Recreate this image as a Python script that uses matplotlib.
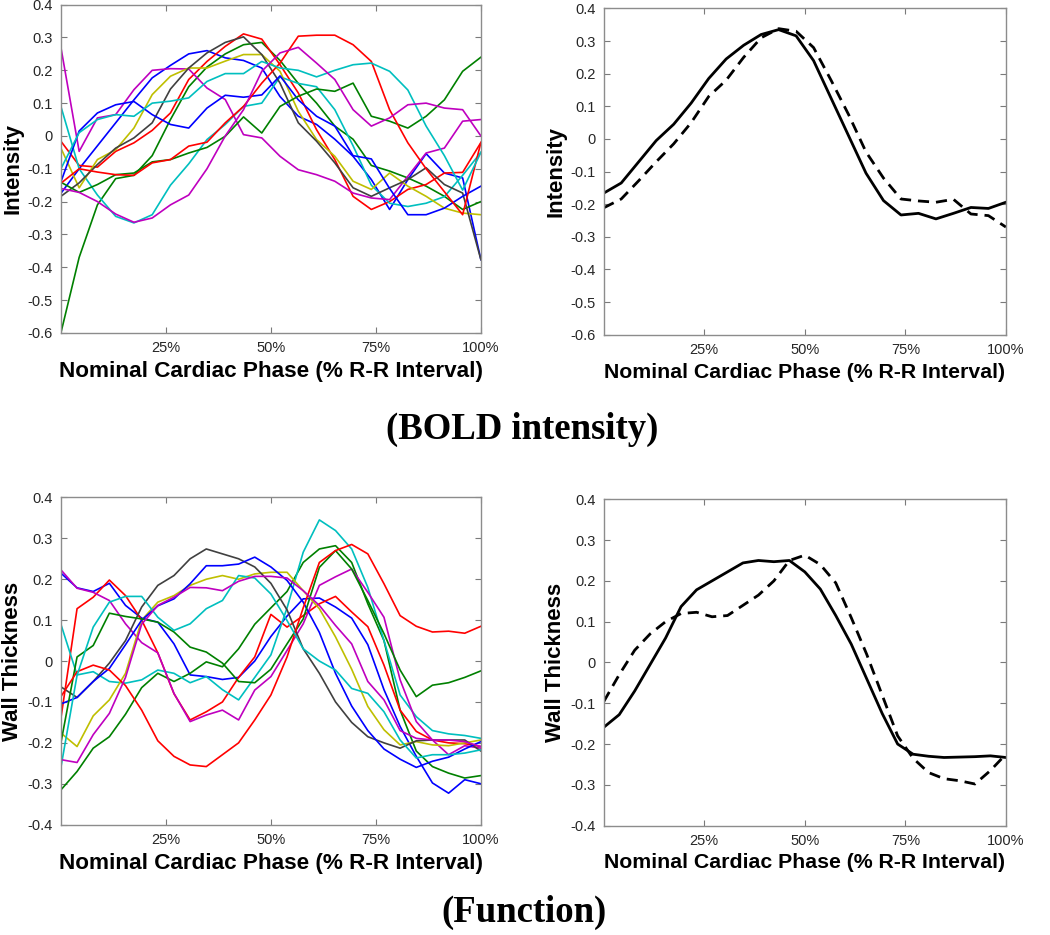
import numpy as np
import matplotlib
matplotlib.use("Agg")
import matplotlib.pyplot as plt
from matplotlib.ticker import FuncFormatter

plt.rcParams['font.family'] = ['Liberation Sans', 'DejaVu Sans']

# BOLD intensity, 24 phases per cycle
phase_bold = np.arange(24) / 23
bold_blue1 = [-0.175, -0.10, -0.03, 0.04, 0.11, 0.177, 0.215, 0.25, 0.26, 0.238, 0.23, 0.207,
              0.12, 0.06, 0.035, -0.01, -0.062, -0.133, -0.224, -0.133, -0.054, -0.113, -0.128, -0.377]
bold_green1 = [-0.60, -0.37, -0.21, -0.13, -0.12, -0.06, 0.05, 0.15, 0.21, 0.25, 0.278, 0.285,
               0.23, 0.16, 0.10, 0.03, -0.01, -0.09, -0.107, -0.128, -0.153, -0.184, -0.224, -0.20]
bold_red1 = [-0.016, -0.09, -0.095, -0.047, -0.021, 0.017, 0.07, 0.172, 0.227, 0.273, 0.311, 0.295,
             0.217, 0.131, 0.019, -0.072, -0.184, -0.224, -0.20, -0.163, -0.148, -0.113, -0.111, -0.02]
bold_cyan1 = [0.09, -0.10, -0.18, -0.245, -0.265, -0.24, -0.15, -0.085, -0.011, 0.035, 0.09, 0.10,
              0.18, 0.16, 0.15, 0.08, -0.03, -0.15, -0.205, -0.215, -0.205, -0.185, -0.12, -0.05]
bold_magenta1 = [0.27, -0.047, 0.055, 0.065, 0.141, 0.20, 0.205, 0.204, 0.146, 0.111, 0.004, -0.006,
                 -0.062, -0.103, -0.118, -0.138, -0.174, -0.189, -0.194, -0.123, -0.052, -0.037, 0.045, 0.05]
bold_yellow = [-0.037, -0.158, -0.072, -0.042, 0.024, 0.126, 0.182, 0.207, 0.207, 0.228, 0.248, 0.248,
               0.197, 0.075, -0.011, -0.062, -0.138, -0.163, -0.113, -0.153, -0.184, -0.22, -0.235, -0.24]
bold_grey = [-0.184, -0.143, -0.087, -0.037, -0.006, 0.04, 0.143, 0.207, 0.253, 0.285, 0.302, 0.248,
             0.161, 0.04, -0.016, -0.082, -0.158, -0.184, -0.158, -0.133, -0.097, -0.148, -0.174, -0.377]
bold_blue2 = [-0.14, 0.015, 0.07, 0.095, 0.105, 0.065, 0.035, 0.024, 0.085, 0.124, 0.118, 0.125,
              0.183, 0.11, 0.06, 0.03, -0.06, -0.07, -0.16, -0.24, -0.24, -0.22, -0.184, -0.153]
bold_green2 = [-0.141, -0.172, -0.148, -0.118, -0.113, -0.079, -0.072, -0.052, -0.035, -0.001, 0.058, 0.009,
               0.09, 0.121, 0.143, 0.136, 0.161, 0.06, 0.045, 0.024, 0.06, 0.11, 0.197, 0.24]
bold_red2 = [-0.144, -0.10, -0.11, -0.118, -0.12, -0.082, -0.072, -0.031, -0.019, 0.04, 0.09, 0.161,
             0.222, 0.304, 0.307, 0.307, 0.278, 0.227, 0.08, -0.021, -0.10, -0.17, -0.24, -0.02]
bold_cyan2 = [-0.10, 0.01, 0.05, 0.065, 0.06, 0.10, 0.106, 0.116, 0.166, 0.19, 0.19, 0.227,
              0.207, 0.20, 0.18, 0.20, 0.217, 0.222, 0.197, 0.14, 0.03, -0.06, -0.165, -0.05]
bold_magenta2 = [-0.16, -0.172, -0.20, -0.238, -0.263, -0.25, -0.21, -0.18, -0.10, 0.0, 0.08, 0.197,
                 0.253, 0.27, 0.222, 0.172, 0.08, 0.03, 0.055, 0.095, 0.10, 0.085, 0.08, 0.0]

bold_solid = [-0.166, -0.135, -0.07, -0.005, 0.045, 0.11, 0.185, 0.245, 0.287, 0.32, 0.335, 0.316,
              0.24, 0.125, 0.01, -0.105, -0.189, -0.233, -0.228, -0.245, -0.228, -0.21, -0.213, -0.194]
bold_dashed = [-0.211, -0.184, -0.128, -0.07, -0.015, 0.05, 0.13, 0.18, 0.25, 0.31, 0.338, 0.33,
               0.28, 0.18, 0.075, -0.04, -0.12, -0.184, -0.19, -0.194, -0.185, -0.23, -0.235, -0.27]

# wall thickness, 27 phases per cycle
phase_func = np.arange(27) / 26
func_blue1 = [0.215, 0.179, 0.17, 0.19, 0.136, 0.105, 0.095, 0.042, -0.034, -0.038, -0.045, -0.04, 0.0, 0.06,
              0.11, 0.152, 0.154, 0.132, 0.105, 0.04, -0.07, -0.16, -0.233, -0.298, -0.323, -0.29, -0.30]
func_green1 = [-0.315, -0.27, -0.213, -0.185, -0.13, -0.065, -0.03, -0.05, -0.03, -0.002, -0.014, 0.03, 0.09, 0.13,
               0.17, 0.241, 0.274, 0.282, 0.241, 0.14, 0.05, -0.12, -0.22, -0.258, -0.274, -0.286, -0.28]
func_red1 = [-0.14, 0.128, 0.156, 0.198, 0.16, 0.10, 0.02, -0.08, -0.144, -0.124, -0.10, -0.04, 0.01, 0.114,
             0.083, 0.111, 0.14, 0.158, 0.12, 0.084, -0.01, -0.12, -0.172, -0.193, -0.20, -0.202, -0.209]
func_cyan1 = [0.09, -0.034, -0.026, -0.05, -0.054, -0.046, -0.022, -0.03, -0.053, -0.038, -0.07, -0.095, -0.04, 0.015,
              0.13, 0.266, 0.345, 0.319, 0.274, 0.18, 0.05, -0.083, -0.136, -0.17, -0.178, -0.182, -0.189]
func_magenta1 = [0.223, 0.178, 0.168, 0.148, 0.091, 0.045, 0.02, -0.079, -0.148, -0.132, -0.12, -0.144, -0.071, -0.038,
                 0.026, 0.091, 0.185, 0.206, 0.225, 0.168, 0.107, -0.046, -0.148, -0.193, -0.229, -0.207, -0.213]
func_yellow = [-0.176, -0.209, -0.134, -0.095, -0.03, 0.10, 0.144, 0.16, 0.185, 0.20, 0.209, 0.20, 0.213, 0.217,
               0.217, 0.172, 0.128, 0.059, -0.02, -0.111, -0.168, -0.205, -0.197, -0.205, -0.207, -0.20, -0.193]
func_grey = [-0.063, -0.089, -0.05, -0.005, 0.05, 0.132, 0.185, 0.209, 0.25, 0.274, 0.262, 0.25, 0.23, 0.19,
             0.125, 0.03, -0.03, -0.10, -0.15, -0.185, -0.20, -0.213, -0.195, -0.193, -0.193, -0.193, -0.22]
func_blue2 = [-0.105, -0.089, -0.05, -0.018, 0.04, 0.10, 0.135, 0.152, 0.189, 0.233, 0.233, 0.237, 0.254, 0.23,
              0.197, 0.144, 0.07, -0.03, -0.11, -0.17, -0.215, -0.24, -0.26, -0.245, -0.235, -0.215, -0.197]
func_green2 = [-0.20, 0.01, 0.038, 0.117, 0.109, 0.103, 0.095, 0.071, 0.034, 0.022, -0.005, -0.05, -0.053, -0.02,
               0.042, 0.103, 0.229, 0.27, 0.225, 0.148, 0.067, -0.022, -0.087, -0.059, -0.053, -0.04, -0.024]
func_red2 = [-0.087, -0.026, -0.01, -0.022, -0.06, -0.12, -0.195, -0.233, -0.254, -0.258, -0.229, -0.20, -0.144, -0.083,
             0.01, 0.13, 0.241, 0.27, 0.285, 0.262, 0.189, 0.111, 0.085, 0.071, 0.073, 0.068, 0.085]
func_cyan2 = [-0.26, -0.035, 0.083, 0.144, 0.158, 0.158, 0.107, 0.075, 0.091, 0.128, 0.148, 0.209, 0.203, 0.164,
              0.099, 0.03, 0.0, -0.022, -0.067, -0.079, -0.124, -0.193, -0.237, -0.229, -0.229, -0.225, -0.217]
func_magenta2 = [-0.241, -0.248, -0.18, -0.128, -0.04, 0.09, 0.136, 0.156, 0.18, 0.179, 0.172, 0.195, 0.207, 0.207,
                 0.203, 0.172, 0.136, 0.087, 0.042, -0.05, -0.095, -0.17, -0.189, -0.193, -0.193, -0.197, -0.209]

func_solid = [-0.159, -0.128, -0.07, -0.005, 0.06, 0.137, 0.178, 0.20, 0.222, 0.244, 0.25, 0.247, 0.25, 0.222,
              0.18, 0.115, 0.045, -0.04, -0.125, -0.20, -0.225, -0.23, -0.233, -0.232, -0.231, -0.229, -0.233]
func_dashed = [-0.096, -0.03, 0.03, 0.07, 0.10, 0.12, 0.123, 0.112, 0.115, 0.14, 0.165, 0.20, 0.25, 0.263,
               0.24, 0.195, 0.11, 0.02, -0.08, -0.18, -0.235, -0.27, -0.285, -0.29, -0.298, -0.265, -0.225]

# MATLAB style colour order
line_colors = [(0, 0, 1), (0, 0.5, 0), (1, 0, 0), (0, 0.75, 0.75), (0.75, 0, 0.75),
               (0.75, 0.75, 0), (0.25, 0.25, 0.25)]

bold_lines = [bold_blue1, bold_green1, bold_red1, bold_cyan1, bold_magenta1, bold_yellow, bold_grey,
              bold_blue2, bold_green2, bold_red2, bold_cyan2, bold_magenta2]
func_lines = [func_blue1, func_green1, func_red1, func_cyan1, func_magenta1, func_yellow, func_grey,
              func_blue2, func_green2, func_red2, func_cyan2, func_magenta2]

x_ticks = [0.25, 0.5, 0.75, 1.0]
x_ticklabels = ['25%', '50%', '75%', '100%']
xlab = 'Nominal Cardiac Phase (% R-R Interval)'


def fmt(v, pos):
    v = round(v, 1)
    if v == 0:
        return '0'
    return f'{v:g}'


def style(ax, ylo, yhi, ylabel, xsize):
    ax.set_xlim(0, 1)
    ax.set_ylim(ylo, yhi)
    ax.set_xticks(x_ticks)
    ax.set_xticklabels(x_ticklabels)
    ax.set_yticks(np.round(np.arange(ylo, yhi + 0.05, 0.1), 1))
    ax.yaxis.set_major_formatter(FuncFormatter(fmt))
    ax.tick_params(direction='in', top=True, right=True, length=4, width=0.8,
                   color='#7a7a7a', labelsize=10.5, labelcolor='#262626')
    ax.tick_params(axis='y', pad=6)
    ax.tick_params(axis='x', pad=6)
    for s in ax.spines.values():
        s.set_color('#8c8c8c')
        s.set_linewidth(1.0)
    ax.set_xlabel(xlab, fontsize=xsize, fontweight='bold', labelpad=4)
    ax.set_ylabel(ylabel, fontsize=16, fontweight='bold', labelpad=3)


fig = plt.figure(figsize=(10.5, 9.35), dpi=100)

ax1 = fig.add_axes([0.058, 0.644, 0.400, 0.351])
for k, ys in enumerate(bold_lines):
    ax1.plot(phase_bold, ys, color=line_colors[k % 7], lw=1.2)
style(ax1, -0.6, 0.4, 'Intensity', 16.2)

ax2 = fig.add_axes([0.575, 0.642, 0.383, 0.349])
ax2.plot(phase_bold, bold_solid, color='black', lw=2.0)
ax2.plot(phase_bold, bold_dashed, color='black', lw=2.0, ls=(0, (4, 2.5)))
style(ax2, -0.6, 0.4, 'Intensity', 15.3)

ax3 = fig.add_axes([0.058, 0.118, 0.400, 0.350])
for k, ys in enumerate(func_lines):
    ax3.plot(phase_func, ys, color=line_colors[k % 7], lw=1.2)
style(ax3, -0.4, 0.4, 'Wall Thickness', 16.2)

ax4 = fig.add_axes([0.575, 0.117, 0.383, 0.349])
ax4.plot(phase_func, func_solid, color='black', lw=2.0)
ax4.plot(phase_func, func_dashed, color='black', lw=2.0, ls=(0, (4, 2.5)))
style(ax4, -0.4, 0.4, 'Wall Thickness', 15.3)

fig.text(0.497, 0.541, '(BOLD intensity)', ha='center', va='center', fontsize=26.5,
         fontweight='bold', family='Liberation Serif')
fig.text(0.499, 0.024, '(Function)', ha='center', va='center', fontsize=26.5,
         fontweight='bold', family='Liberation Serif')

fig.savefig('out.png', dpi=100)
